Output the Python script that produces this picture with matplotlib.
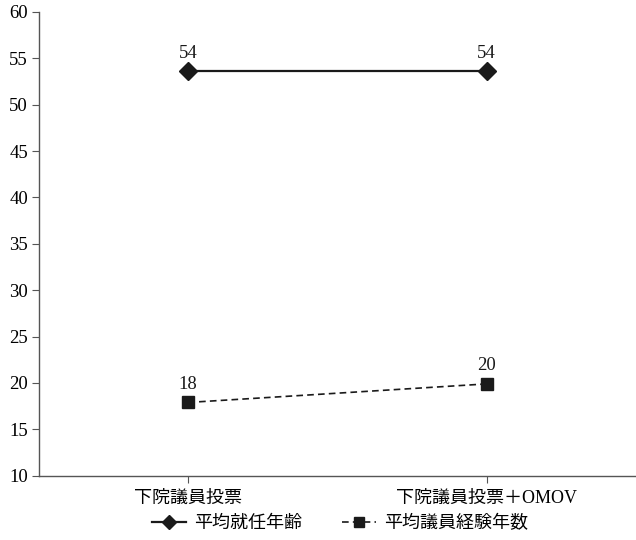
import matplotlib
matplotlib.use("Agg")
import matplotlib.pyplot as plt

plt.rcParams["font.family"] = ["Liberation Serif", "Noto Sans CJK JP"]

# -- Data ----------------------------------------------------------------------
categories   = ["下院議員投票", "下院議員投票＋OMOV"]
avg_age      = [53.6, 53.6]      # 平均就任年齢
avg_years    = [17.9, 19.9]      # 平均議員経験年数
series_names = ["平均就任年齢", "平均議員経験年数"]
y_ticks      = list(range(10, 61, 5))

INK  = "#1a1a1a"
AXIS = "#555555"

fig = plt.figure(figsize=(6.36, 5.4), dpi=100)
ax = fig.add_axes([0.0613, 0.119, 0.9387, 0.859])

x = list(range(len(categories)))
ax.plot(x, avg_age, color=INK, lw=1.6, marker="D", ms=9.5,
        label=series_names[0])
ax.plot(x, avg_years, color=INK, lw=1.2, ls=(0, (4, 2.5)), marker="s", ms=8.5,
        label=series_names[1])

# value labels above each point
for ys in (avg_age, avg_years):
    for xi, yi in zip(x, ys):
        ax.annotate(f"{yi:.0f}", (xi, yi), xytext=(0, 7), textcoords="offset points",
                    ha="center", va="bottom", fontsize=13.5, color=INK)

ax.set_xlim(-0.5, 1.5)
ax.set_ylim(10, 60)
ax.set_yticks(y_ticks)
ax.set_xticks(x)
ax.set_xticklabels(categories, fontsize=13)
ax.tick_params(axis="y", labelsize=13.5, length=5, color=AXIS, pad=3)
ax.tick_params(axis="x", length=5, color=AXIS, pad=5)

for side in ("top", "right"):
    ax.spines[side].set_visible(False)
for side in ("left", "bottom"):
    ax.spines[side].set_color(AXIS)
    ax.spines[side].set_linewidth(1.0)

fig.legend(loc="center", bbox_to_anchor=(0.535, 0.031), ncol=2,
           frameon=False, fontsize=13, handlelength=1.9, columnspacing=2.2,
           handletextpad=0.45, markerscale=0.8, borderpad=0, borderaxespad=0)

fig.savefig("out.png", dpi=100)
